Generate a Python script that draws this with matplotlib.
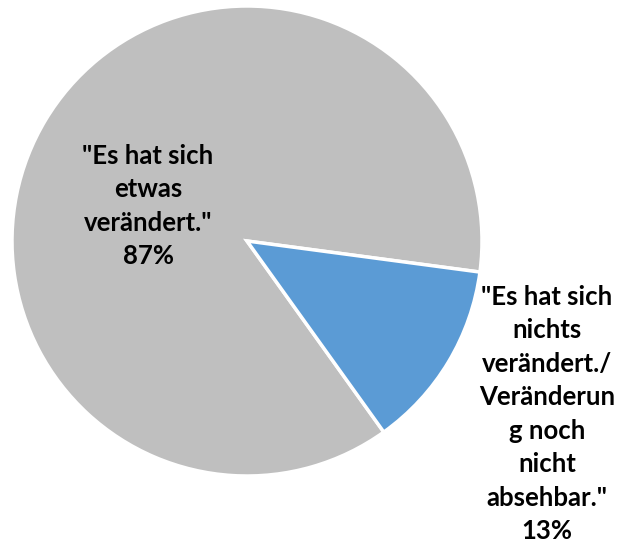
import matplotlib
matplotlib.use("Agg")
import matplotlib.pyplot as plt

categories = ['"Es hat sich\netwas\nverändert."', '"Es hat sich\nnichts\nverändert./\nVeränderun\ng noch\nnicht\nabsehbar."']
values = [87, 13]
colors = ["#BFBFBF", "#5B9BD5"]

W, H = 617, 549
fig = plt.figure(figsize=(W / 100, H / 100), dpi=100)
ax = fig.add_axes([0, 0, 1, 1])
ax.pie(values, colors=colors, startangle=-7.6, counterclock=True,
       center=(247, H - 241), radius=235,
       wedgeprops=dict(edgecolor="white", linewidth=2.5))
ax.set_xlim(0, W)
ax.set_ylim(0, H)
ax.set_aspect("equal")
ax.axis("off")

label_pos = [(148, 206), (547, 414)]
for cat, v, (px, py) in zip(categories, values, label_pos):
    ax.text(px, H - py, f"{cat}\n{v}%", ha="center", va="center",
            fontsize=18.5, fontweight="bold", family=["Lato", "DejaVu Sans"],
            linespacing=1.47, color="black")

fig.savefig("out.png", dpi=100)
